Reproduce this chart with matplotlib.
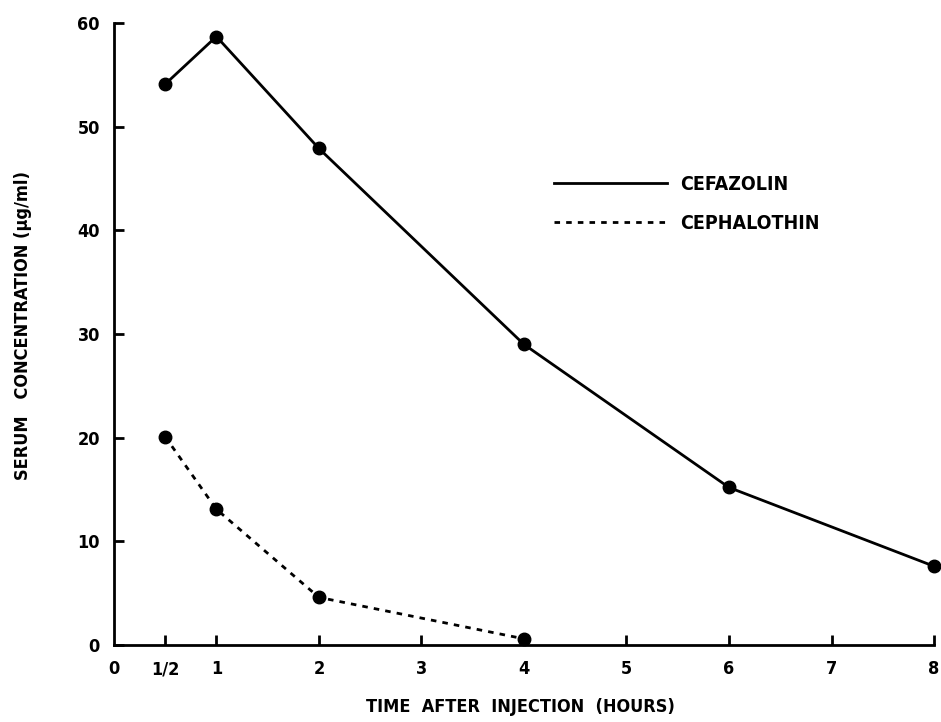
""" Serum concentration after injection: cefazolin vs cephalothin
"""
import matplotlib
matplotlib.use('Agg')
import matplotlib.pyplot as plt
from matplotlib.lines import Line2D

# data
hours_cefazolin = [0.5, 1, 2, 4, 6, 8]
conc_cefazolin = [54.1, 58.7, 47.9, 29.0, 15.2, 7.6]
hours_cephalothin = [0.5, 1, 2, 4]
conc_cephalothin = [20.1, 13.1, 4.6, 0.6]
xticks = [0, 0.5, 1, 2, 3, 4, 5, 6, 7, 8]
xtick_labels = ['0', '1/2', '1', '2', '3', '4', '5', '6', '7', '8']
yticks = [0, 10, 20, 30, 40, 50, 60]
series_names = ['CEFAZOLIN', 'CEPHALOTHIN']

# fig config
plt.rcParams['font.family'] = ['DejaVu Sans']
plt.rcParams['font.stretch'] = 'condensed'
plt.rcParams['font.weight'] = 'bold'
fig_size = (9.41, 7.22)
line_wid = 2.0
mark_size = 9
dot_style = (0, (2, 2.2))
fsize_tick = 13
fsize_label = 13
fsize_legend = 14

fig = plt.figure(figsize=fig_size, dpi=100)
ax = fig.add_axes([0.121, 0.1066, 0.8716, 0.8615])

ax.plot(hours_cefazolin, conc_cefazolin, color='k', lw=line_wid,
        marker='o', ms=mark_size, clip_on=False, zorder=3)
ax.plot(hours_cephalothin, conc_cephalothin, color='k', lw=line_wid,
        ls=dot_style, marker='o', ms=mark_size, clip_on=False, zorder=3)

ax.set_xlim(0, 8)
ax.set_ylim(0, 60)
for s in ['top', 'right']:
    ax.spines[s].set_visible(False)
for s in ['left', 'bottom']:
    ax.spines[s].set_linewidth(2)
ax.set_xticks(xticks)
ax.set_xticklabels(xtick_labels, fontsize=fsize_tick, fontweight='bold')
ax.set_yticks(yticks)
ax.set_yticklabels([str(v) for v in yticks], fontsize=fsize_tick, fontweight='bold')
ax.tick_params(axis='x', direction='in', length=7, width=2, pad=11)
ax.tick_params(axis='y', direction='in', length=7, width=2, pad=10)
ax.xaxis.set_ticks_position('bottom')
ax.yaxis.set_ticks_position('left')
ax.xaxis.get_majorticklines()[0].set_visible(False)

ax.set_xlabel('TIME  AFTER  INJECTION  (HOURS)', fontsize=fsize_label, fontweight='bold')
ax.set_ylabel('SERUM   CONCENTRATION (\u00b5g/ml)', fontsize=fsize_label, fontweight='bold')
ax.xaxis.set_label_coords(0.496, -0.085)
ax.yaxis.set_label_coords(-0.100, 0.514)

handles = [Line2D([], [], color='k', lw=line_wid),
           Line2D([], [], color='k', lw=line_wid, ls=dot_style)]
ax.legend(handles, series_names, loc='upper left', bbox_to_anchor=(0.515, 0.784),
          frameon=False, handlelength=5.8, handletextpad=0.7, labelspacing=1.05,
          prop={'size': fsize_legend, 'weight': 'bold'})

plt.savefig('out.png', dpi=100)
